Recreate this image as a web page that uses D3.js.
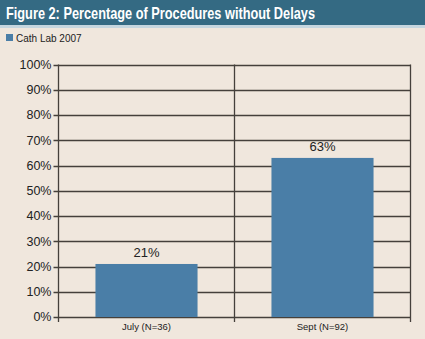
<!DOCTYPE html>
<html>
<head>
<meta charset="utf-8">
<script src="https://cdn.jsdelivr.net/npm/d3@7"></script>
<style>
  body { margin: 0; background: #f0e7dd; }
  svg { display: block; font-family: "Liberation Sans", Arial, sans-serif; }
</style>
</head>
<body>
<svg id="chart" width="425" height="339"></svg>
<script>
var categories = ["July (N=36)", "Sept (N=92)"];
var values = [21, 63];
var barLabels = ["21%", "63%"];
var yTicks = [0, 10, 20, 30, 40, 50, 60, 70, 80, 90, 100];
var seriesName = "Cath Lab 2007";

var svg = d3.select("#chart"),
	width = +svg.attr("width"),
	height = +svg.attr("height"),
	margin = {left: 58.5, right: 14.5, top: 64.5, bottom: 22};

// background and title bar
svg.append("rect").attr("width", width).attr("height", height).attr("fill", "#f0e7dd");
svg.append("rect").attr("width", width).attr("height", 25).attr("fill", "#346a83");
svg.append("rect").attr("y", 25).attr("width", width).attr("height", 3).attr("fill", "#c5d6df");
svg.append("text")
	.attr("x", 6).attr("y", 18.5)
	.attr("fill", "#fff")
	.attr("font-family", "'Liberation Sans Narrow', 'Liberation Sans', sans-serif")
	.attr("font-size", 17)
	.attr("font-weight", "bold")
	.attr("textLength", 309)
	.attr("lengthAdjust", "spacingAndGlyphs")
	.text("Figure 2: Percentage of Procedures without Delays");

// legend
svg.append("rect").attr("x", 6).attr("y", 34).attr("width", 7).attr("height", 7).attr("fill", "#4a7ea7");
svg.append("text").attr("x", 16).attr("y", 41.5).attr("font-size", 10).attr("fill", "#222").text(seriesName);

var x = d3.scaleBand()
	.domain(categories)
	.range([margin.left, width - margin.right])
	.paddingInner(0)
	.paddingOuter(0);

var y = d3.scaleLinear()
	.domain([0, 100])
	.range([height - margin.bottom, margin.top]);

var lineColor = "#45403b";

// horizontal grid + tick marks
svg.append("g")
	.selectAll("line")
	.data(yTicks)
	.enter().append("line")
		.attr("x1", margin.left - 5)
		.attr("x2", width - margin.right)
		.attr("y1", function(d) { return Math.round(y(d)) + 0.5; })
		.attr("y2", function(d) { return Math.round(y(d)) + 0.5; })
		.attr("stroke", lineColor)
		.attr("stroke-width", 1.3);

// bars
var bw = x.bandwidth() * 0.58;
svg.append("g")
	.selectAll("rect")
	.data(values)
	.enter().append("rect")
		.attr("x", function(d, i) { return x(categories[i]) + (x.bandwidth() - bw) / 2; })
		.attr("width", bw)
		.attr("y", function(d) { return y(d); })
		.attr("height", function(d) { return y(0) - y(d); })
		.attr("fill", "#4a7ea7");

// vertical lines: left axis, divider, right edge
var vx = [margin.left, x(categories[1]), width - margin.right];
svg.append("g")
	.selectAll("line")
	.data(vx)
	.enter().append("line")
		.attr("x1", function(d) { return d; })
		.attr("x2", function(d) { return d; })
		.attr("y1", margin.top)
		.attr("y2", height - margin.bottom + 5)
		.attr("stroke", lineColor)
		.attr("stroke-width", 1.3);

// y tick labels
svg.append("g")
	.selectAll("text")
	.data(yTicks)
	.enter().append("text")
		.attr("x", margin.left - 7)
		.attr("y", function(d) { return y(d); })
		.attr("dy", "0.35em")
		.attr("text-anchor", "end")
		.attr("font-size", 12.5)
		.attr("fill", "#222")
		.text(function(d) { return d + "%"; });

// category labels
svg.append("g")
	.selectAll("text")
	.data(categories)
	.enter().append("text")
		.attr("x", function(d) { return x(d) + x.bandwidth() / 2; })
		.attr("y", height - margin.bottom + 13)
		.attr("text-anchor", "middle")
		.attr("font-size", 9.5)
		.attr("fill", "#222")
		.text(function(d) { return d; });

// value labels
svg.append("g")
	.selectAll("text")
	.data(values)
	.enter().append("text")
		.attr("x", function(d, i) { return x(categories[i]) + x.bandwidth() / 2; })
		.attr("y", function(d) { return y(d) - 7; })
		.attr("text-anchor", "middle")
		.attr("font-size", 13)
		.attr("fill", "#222")
		.text(function(d, i) { return barLabels[i]; });
</script>
</body>
</html>
